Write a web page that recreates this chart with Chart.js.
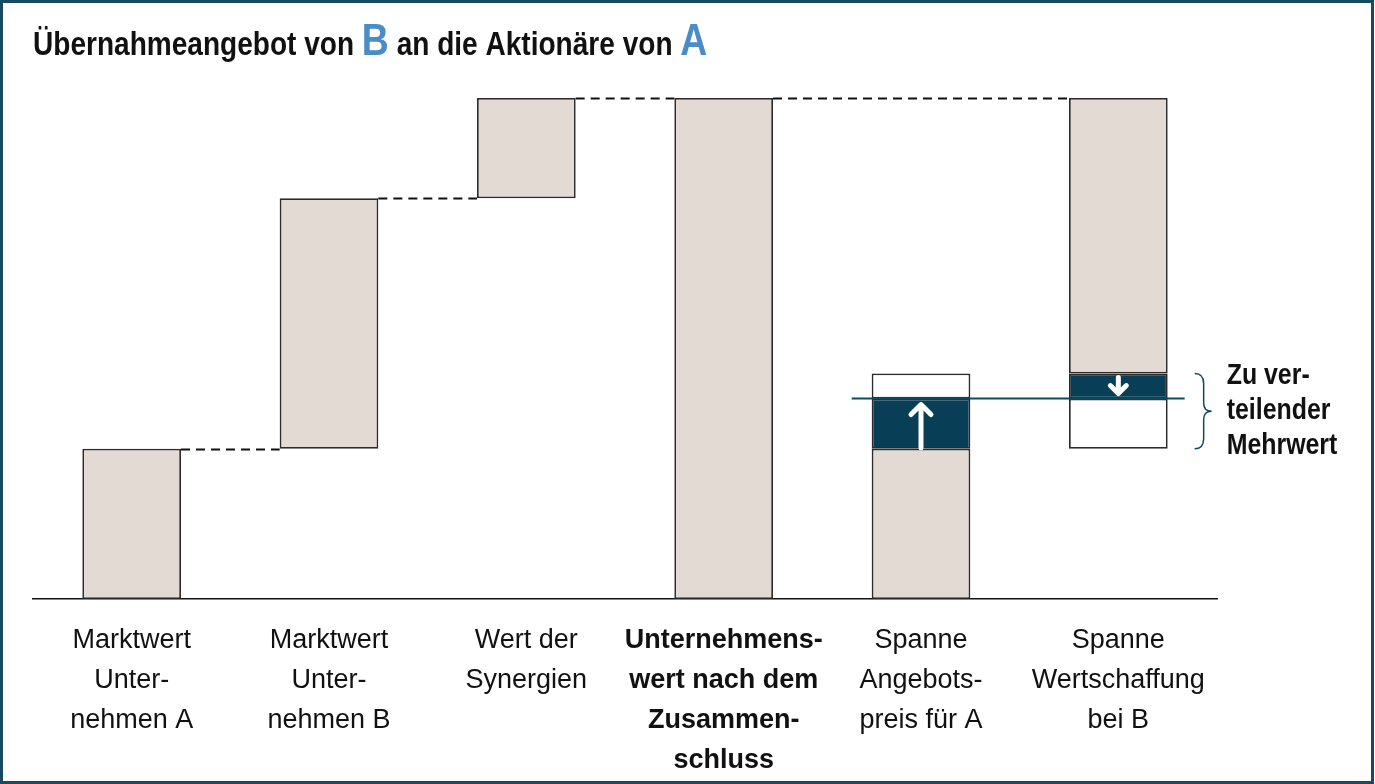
<!DOCTYPE html>
<html lang="de">
<head>
<meta charset="utf-8">
<title>Übernahmeangebot</title>
<script src="https://cdn.jsdelivr.net/npm/chart.js@4.4.1/dist/chart.umd.min.js"></script>
<style>
  html, body { margin: 0; padding: 0; background: #fff; }
  canvas { display: block; }
</style>
</head>
<body>
<canvas id="chart" width="1375" height="784"></canvas>
<script>
// categories (x-axis labels, multi-line)
const categories = [
  ["Marktwert", "Unter-", "nehmen A"],
  ["Marktwert", "Unter-", "nehmen B"],
  ["Wert der", "Synergien"],
  ["Unternehmens-", "wert nach dem", "Zusammen-", "schluss"],
  ["Spanne", "Angebots-", "preis für A"],
  ["Spanne", "Wertschaffung", "bei B"]
];

// floating bars [from, to] in value units
const valueBars = [[0, 3], [3, 8], [8, 10], [0, 10], [0, 3], [4.5, 10]];
const surplusBars = [null, null, null, null, [3, 4], [4, 4.5]];
const openBars = [null, null, null, null, [4, 4.5], [3, 4]];

// connectors: [from category, to category, level]
const connectors = [[0, 1, 3], [1, 2, 8], [2, 3, 10], [3, 5, 10]];
const priceLevel = 4;
const braceRange = [3, 4.5];
const noteLines = ["Zu ver-", "teilender", "Mehrwert"];

const BEIGE = "#e2dad3";
const TEAL = "#083f56";
const EDGE = "#2b2b2b";
const BLUE = "#4a8cc6";
const NARROW = 0.83; // no narrow face installed, so squeeze the bold sans

const overlay = {
  id: "overlay",
  afterDatasetsDraw(chart) {
    const { ctx, scales: { x, y } } = chart;
    const half = (x.getPixelForValue(1) - x.getPixelForValue(0)) * 0.25;

    // dashed connectors between bar tops
    ctx.save();
    ctx.strokeStyle = "#111";
    ctx.lineWidth = 2;
    ctx.setLineDash([9, 6]);
    connectors.forEach(([a, b, v]) => {
      const py = Math.round(y.getPixelForValue(v)) + 0.5;
      ctx.beginPath();
      ctx.moveTo(x.getPixelForValue(a) + half, py);
      ctx.lineTo(x.getPixelForValue(b) - half, py);
      ctx.stroke();
    });
    ctx.restore();

    // price line across the last two bars
    const ly = y.getPixelForValue(priceLevel);
    ctx.save();
    ctx.strokeStyle = "#0d4a63";
    ctx.lineWidth = 2;
    ctx.beginPath();
    ctx.moveTo(x.getPixelForValue(4) - half - 20, ly);
    ctx.lineTo(x.getPixelForValue(5) + half + 17, ly);
    ctx.stroke();
    ctx.restore();

    // white arrows inside the dark blocks
    function arrow(cx, y1, y2, head) {
      const dir = y2 < y1 ? 1 : -1;
      ctx.beginPath();
      ctx.moveTo(cx, y1);
      ctx.lineTo(cx, y2 + dir * 2);
      ctx.moveTo(cx - head, y2 + dir * head);
      ctx.lineTo(cx, y2);
      ctx.lineTo(cx + head, y2 + dir * head);
      ctx.stroke();
    }
    ctx.save();
    ctx.strokeStyle = "#fff";
    ctx.lineWidth = 5;
    ctx.lineCap = "round";
    ctx.lineJoin = "round";
    arrow(x.getPixelForValue(4), y.getPixelForValue(3) - 1, y.getPixelForValue(4) + 6, 10);
    arrow(x.getPixelForValue(5), y.getPixelForValue(4.5) + 4, y.getPixelForValue(4) - 5, 8);
    ctx.restore();

    // curly brace
    const by1 = y.getPixelForValue(braceRange[1]);
    const by2 = y.getPixelForValue(braceRange[0]);
    const bm = (by1 + by2) / 2;
    const bx = x.getPixelForValue(5) + half + 27;
    ctx.save();
    ctx.strokeStyle = "#0d4a63";
    ctx.lineWidth = 1.5;
    ctx.beginPath();
    ctx.moveTo(bx, by1);
    ctx.quadraticCurveTo(bx + 9, by1, bx + 9, by1 + 10);
    ctx.lineTo(bx + 9, bm - 8);
    ctx.quadraticCurveTo(bx + 9, bm, bx + 17, bm);
    ctx.quadraticCurveTo(bx + 9, bm, bx + 9, bm + 8);
    ctx.lineTo(bx + 9, by2 - 10);
    ctx.quadraticCurveTo(bx + 9, by2, bx, by2);
    ctx.stroke();

    ctx.fillStyle = "#111";
    ctx.font = "bold 30px 'Liberation Sans', Arial, sans-serif";
    ctx.textBaseline = "middle";
    ctx.textAlign = "left";
    ctx.translate(bx + 32, 0);
    ctx.scale(NARROW, 1);
    noteLines.forEach((t, i) => ctx.fillText(t, 0, bm - 35 + i * 35));
    ctx.restore();
  },
  afterDraw(chart) {
    const { ctx } = chart;
    // title with the two company letters highlighted
    ctx.save();
    ctx.textBaseline = "alphabetic";
    ctx.textAlign = "left";
    const small = "bold 33px 'Liberation Sans', Arial, sans-serif";
    const big = "bold 44px 'Liberation Sans', Arial, sans-serif";
    const parts = [
      ["Übernahmeangebot von ", small, "#111"],
      ["B", big, BLUE],
      [" an die Aktionäre von ", small, "#111"],
      ["A", big, BLUE]
    ];
    ctx.translate(33, 0);
    ctx.scale(0.85, 1);
    let tx = 0;
    parts.forEach(([t, f, c]) => {
      ctx.font = f;
      ctx.fillStyle = c;
      ctx.fillText(t, tx, 55);
      tx += ctx.measureText(t).width;
    });
    ctx.restore();

    // outer frame
    ctx.save();
    ctx.strokeStyle = "#184b61";
    ctx.lineWidth = 3;
    ctx.strokeRect(1.5, 1.5, chart.width - 4, chart.height - 3);
    ctx.restore();
  }
};

new Chart(document.getElementById("chart"), {
  type: "bar",
  data: {
    labels: categories,
    datasets: [
      { data: valueBars, backgroundColor: BEIGE },
      { data: surplusBars, backgroundColor: TEAL },
      { data: openBars, backgroundColor: "#ffffff" }
    ]
  },
  options: {
    responsive: false,
    animation: false,
    devicePixelRatio: 1,
    layout: { padding: { left: 33, right: 158, top: 98, bottom: 0 } },
    datasets: {
      bar: {
        barPercentage: 0.5,
        categoryPercentage: 1,
        borderColor: EDGE,
        borderWidth: 1.8,
        borderSkipped: false
      }
    },
    plugins: {
      legend: { display: false },
      tooltip: { enabled: false },
      title: { display: false }
    },
    scales: {
      x: {
        stacked: true,
        grid: { display: false },
        border: { display: true, color: "#111", width: 1.5 },
        afterFit(scale) { scale.height = 185; },
        ticks: {
          color: "#111",
          padding: 14,
          maxRotation: 0,
          autoSkip: false,
          font: (c) => ({
            family: "'Liberation Sans', Arial, sans-serif",
            size: 27,
            lineHeight: 40 / 27,
            weight: c.index === 3 ? "bold" : "normal"
          })
        }
      },
      y: {
        display: false,
        min: 0,
        max: 10
      }
    }
  },
  plugins: [overlay]
});
</script>
</body>
</html>
